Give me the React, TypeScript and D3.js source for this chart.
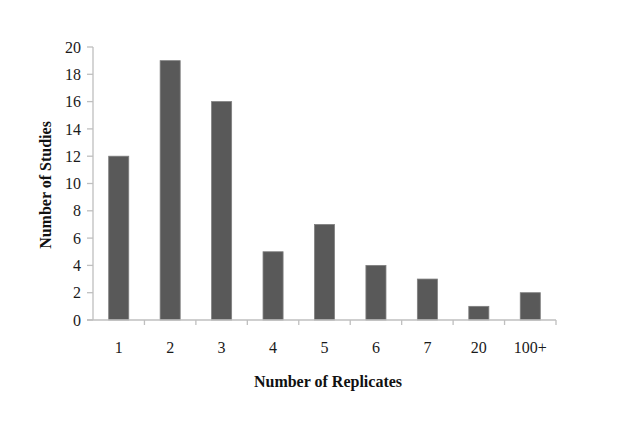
import React from "react";
import * as d3 from "d3";

const categories = ["1", "2", "3", "4", "5", "6", "7", "20", "100+"];
const values = [12, 19, 16, 5, 7, 4, 3, 1, 2];
const yTicks = [0, 2, 4, 6, 8, 10, 12, 14, 16, 18, 20];

export default function App() {
  const W = 618, H = 422;
  const left = 93, right = 556, top = 47, bottom = 320;
  const x = d3.scaleBand<string>().domain(categories).range([left, right]).paddingInner(0.61).paddingOuter(0.305);
  const xb = d3.scaleBand<string>().domain(categories).range([left, right]);
  const y = d3.scaleLinear().domain([0, 20]).range([bottom, top]);
  const font = "'Liberation Serif', 'Times New Roman', serif";
  const axisColor = "#bfbfbf";
  return (
    <svg width={W} height={H} style={{ position: "absolute", left: 0, top: 0, background: "#fff" }}>
      {values.map((v, i) => (
        <rect key={i} x={x(categories[i])} y={y(v)} width={x.bandwidth()} height={bottom - y(v)}
          fill="#595959" stroke="#7f7f7f" strokeWidth={0.8} />
      ))}
      <line x1={left} x2={left} y1={top} y2={bottom} stroke={axisColor} strokeWidth={1.3} />
      <line x1={left - 6} x2={right} y1={bottom} y2={bottom} stroke={axisColor} strokeWidth={1.3} />
      {yTicks.map(t => (
        <g key={t}>
          <line x1={left - 6} x2={left} y1={y(t)} y2={y(t)} stroke={axisColor} strokeWidth={1.3} />
          <text x={left - 12} y={y(t)} dy="0.35em" textAnchor="end" fontFamily={font} fontSize={16} fill="#1a1a1a">{t}</text>
        </g>
      ))}
      {categories.map((c, i) => (
        <g key={c}>
          {i > 0 && <line x1={xb(c)} x2={xb(c)} y1={bottom} y2={bottom + 5} stroke={axisColor} strokeWidth={1.3} />}
          <text x={(xb(c) as number) + xb.bandwidth() / 2} y={bottom + 27} dy="0.35em" textAnchor="middle" fontFamily={font} fontSize={16} fill="#1a1a1a">{c}</text>
        </g>
      ))}
      <line x1={right} x2={right} y1={bottom} y2={bottom + 5} stroke={axisColor} strokeWidth={1.3} />
      <text x={328} y={381} dy="0.35em" textAnchor="middle" fontFamily={font} fontSize={16} fontWeight="bold" fill="#111">Number of Replicates</text>
      <text transform={`translate(45,185) rotate(-90)`} dy="0.35em" textAnchor="middle" fontFamily={font} fontSize={16} fontWeight="bold" fill="#111">Number of Studies</text>
    </svg>
  );
}
